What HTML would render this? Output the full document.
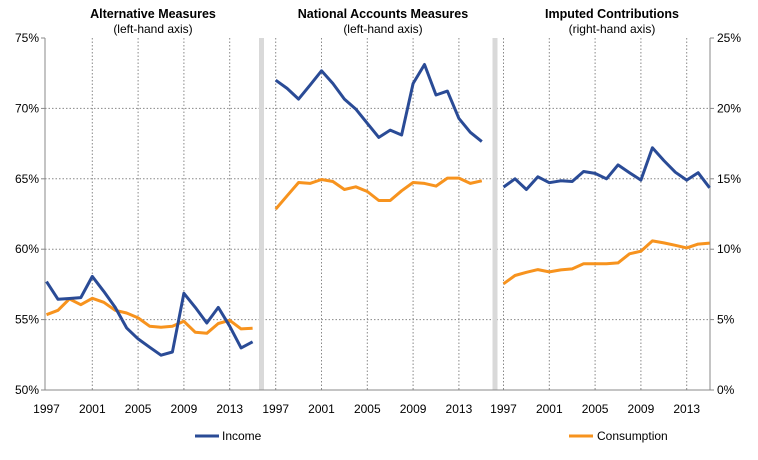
<!DOCTYPE html>
<html><head><meta charset="utf-8"><style>
body{margin:0;background:#fff;font-family:"Liberation Sans",Arial,sans-serif}
svg text{font-family:"Liberation Sans",Arial,sans-serif;fill:#000}
</style></head><body>
<svg id="c" width="758" height="455" xmlns="http://www.w3.org/2000/svg"></svg>
<script>
const years=[1997,1998,1999,2000,2001,2002,2003,2004,2005,2006,2007,2008,2009,2010,2011,2012,2013,2014,2015];
const altIncome=[57.7,56.44,56.5,56.56,58.07,57.0,55.87,54.41,53.63,53.04,52.47,52.7,56.87,55.87,54.76,55.87,54.53,52.99,53.42];
const altConsumption=[55.35,55.66,56.47,56.06,56.51,56.23,55.66,55.47,55.12,54.53,54.46,54.53,54.88,54.1,54.03,54.72,54.95,54.34,54.38];
const naIncome=[72.0,71.42,70.66,71.65,72.67,71.77,70.66,69.95,68.94,67.94,68.46,68.11,71.77,73.12,70.95,71.23,69.29,68.3,67.64];
const naConsumption=[62.85,63.79,64.74,64.67,64.95,64.81,64.24,64.43,64.1,63.46,63.46,64.15,64.74,64.67,64.48,65.05,65.05,64.67,64.86];
const icIncome=[14.41,15.0,14.24,15.14,14.72,14.86,14.81,15.52,15.38,15.0,15.99,15.43,14.91,17.2,16.3,15.47,14.91,15.43,14.36];
const icConsumption=[7.54,8.13,8.36,8.55,8.39,8.53,8.6,8.96,8.96,8.96,9.03,9.67,9.86,10.59,10.45,10.28,10.09,10.36,10.43];
const leftTicks=["50%","55%","60%","65%","70%","75%"];
const rightTicks=["0%","5%","10%","15%","20%","25%"];
const xLabels=[1997,2001,2005,2009,2013];

const svgEl=document.getElementById('c');
const NS='http://www.w3.org/2000/svg';
function mk(tag,attrs,parent){const e=document.createElementNS(NS,tag);for(const k in attrs)e.setAttribute(k,attrs[k]);(parent||svgEl).appendChild(e);return e;}
const T=38,B=390,L=45,R=710;
function yL(v){return B-(v-50)/25*(B-T);}
function yR(v){return B-v/25*(B-T);}
const panels=[{x0:46.5},{x0:275.7},{x0:503.5}];
const step=11.45;
function xP(p,yr){return panels[p].x0+(yr-1997)*step;}

for(let i=1;i<5;i++){const y=T+i*(B-T)/5;
 const g=mk('line',{x1:L,x2:R,y1:y,y2:y,stroke:'#888','stroke-dasharray':'1.5,2','stroke-width':1});
 
 }
for(let p=0;p<3;p++){xLabels.forEach((yr,i)=>{const x=xP(p,yr);
 if(!(p==0&&i==0)){const g=mk('line',{x1:x,x2:x,y1:T,y2:B,stroke:'#888','stroke-dasharray':'1.5,2','stroke-width':1});
 
 }
 const t=mk('text',{x:x,y:413,'font-size':12,'text-anchor':'middle'});t.textContent=yr;
 
 });}
[[259,5],[492.5,5]].forEach(s=>{const r=mk('rect',{x:s[0],y:T,width:s[1],height:B-T,fill:'#d9d9d9'});
 
 });
let a=mk('line',{x1:L,x2:L,y1:T,y2:B,stroke:'#888'});


a=mk('line',{x1:R,x2:R,y1:T,y2:B,stroke:'#888'});


a=mk('line',{x1:L,x2:R,y1:B,y2:B,stroke:'#888'});


leftTicks.forEach((t,i)=>{const y=yL(50+i*5);const e=mk('text',{x:39,y:y+4,'font-size':12,'text-anchor':'end'});e.textContent=t;
 
 
 const k=mk('line',{x1:L-4,x2:L,y1:y,y2:y,stroke:'#888'});
 
 });
rightTicks.forEach((t,i)=>{const y=yR(i*5);const e=mk('text',{x:717,y:y+4,'font-size':12});e.textContent=t;
 
 
 const k=mk('line',{x1:R,x2:R+4,y1:y,y2:y,stroke:'#888'});
 
 });
function drawLine(p,vals,yf,color,name){const d=vals.map((v,i)=>(i?'L':'M')+xP(p,years[i]).toFixed(1)+','+yf(v).toFixed(1)).join(' ');
 const e=mk('path',{d:d,fill:'none',stroke:color,'stroke-width':3,'stroke-linejoin':'round'});
 
 }
const blue='#2a4b96',orange='#f7931e';
drawLine(0,altConsumption,yL,orange,'alternative-consumption-line');
drawLine(0,altIncome,yL,blue,'alternative-income-line');
drawLine(1,naConsumption,yL,orange,'national-accounts-consumption-line');
drawLine(1,naIncome,yL,blue,'national-accounts-income-line');
drawLine(2,icConsumption,yR,orange,'imputed-consumption-line');
drawLine(2,icIncome,yR,blue,'imputed-income-line');
[[153,'Alternative Measures','(left-hand axis)','alternative'],[383,'National Accounts Measures','(left-hand axis)','national-accounts'],[612,'Imputed Contributions','(right-hand  axis)','imputed']].forEach(t=>{
 const a1=mk('text',{x:t[0],y:18,'font-size':12.5,'font-weight':'bold','text-anchor':'middle'});a1.textContent=t[1];
 
 
 const b1=mk('text',{x:t[0],y:33,'font-size':12,'text-anchor':'middle'});b1.textContent=t[2];
 
 });
let lg=mk('line',{x1:195,x2:219,y1:436,y2:436,stroke:blue,'stroke-width':3});


let lt=mk('text',{x:222,y:440,'font-size':12});lt.textContent='Income';


lg=mk('line',{x1:569,x2:593,y1:436,y2:436,stroke:orange,'stroke-width':3});


lt=mk('text',{x:597,y:440,'font-size':12});lt.textContent='Consumption';


</script>
</body></html>
